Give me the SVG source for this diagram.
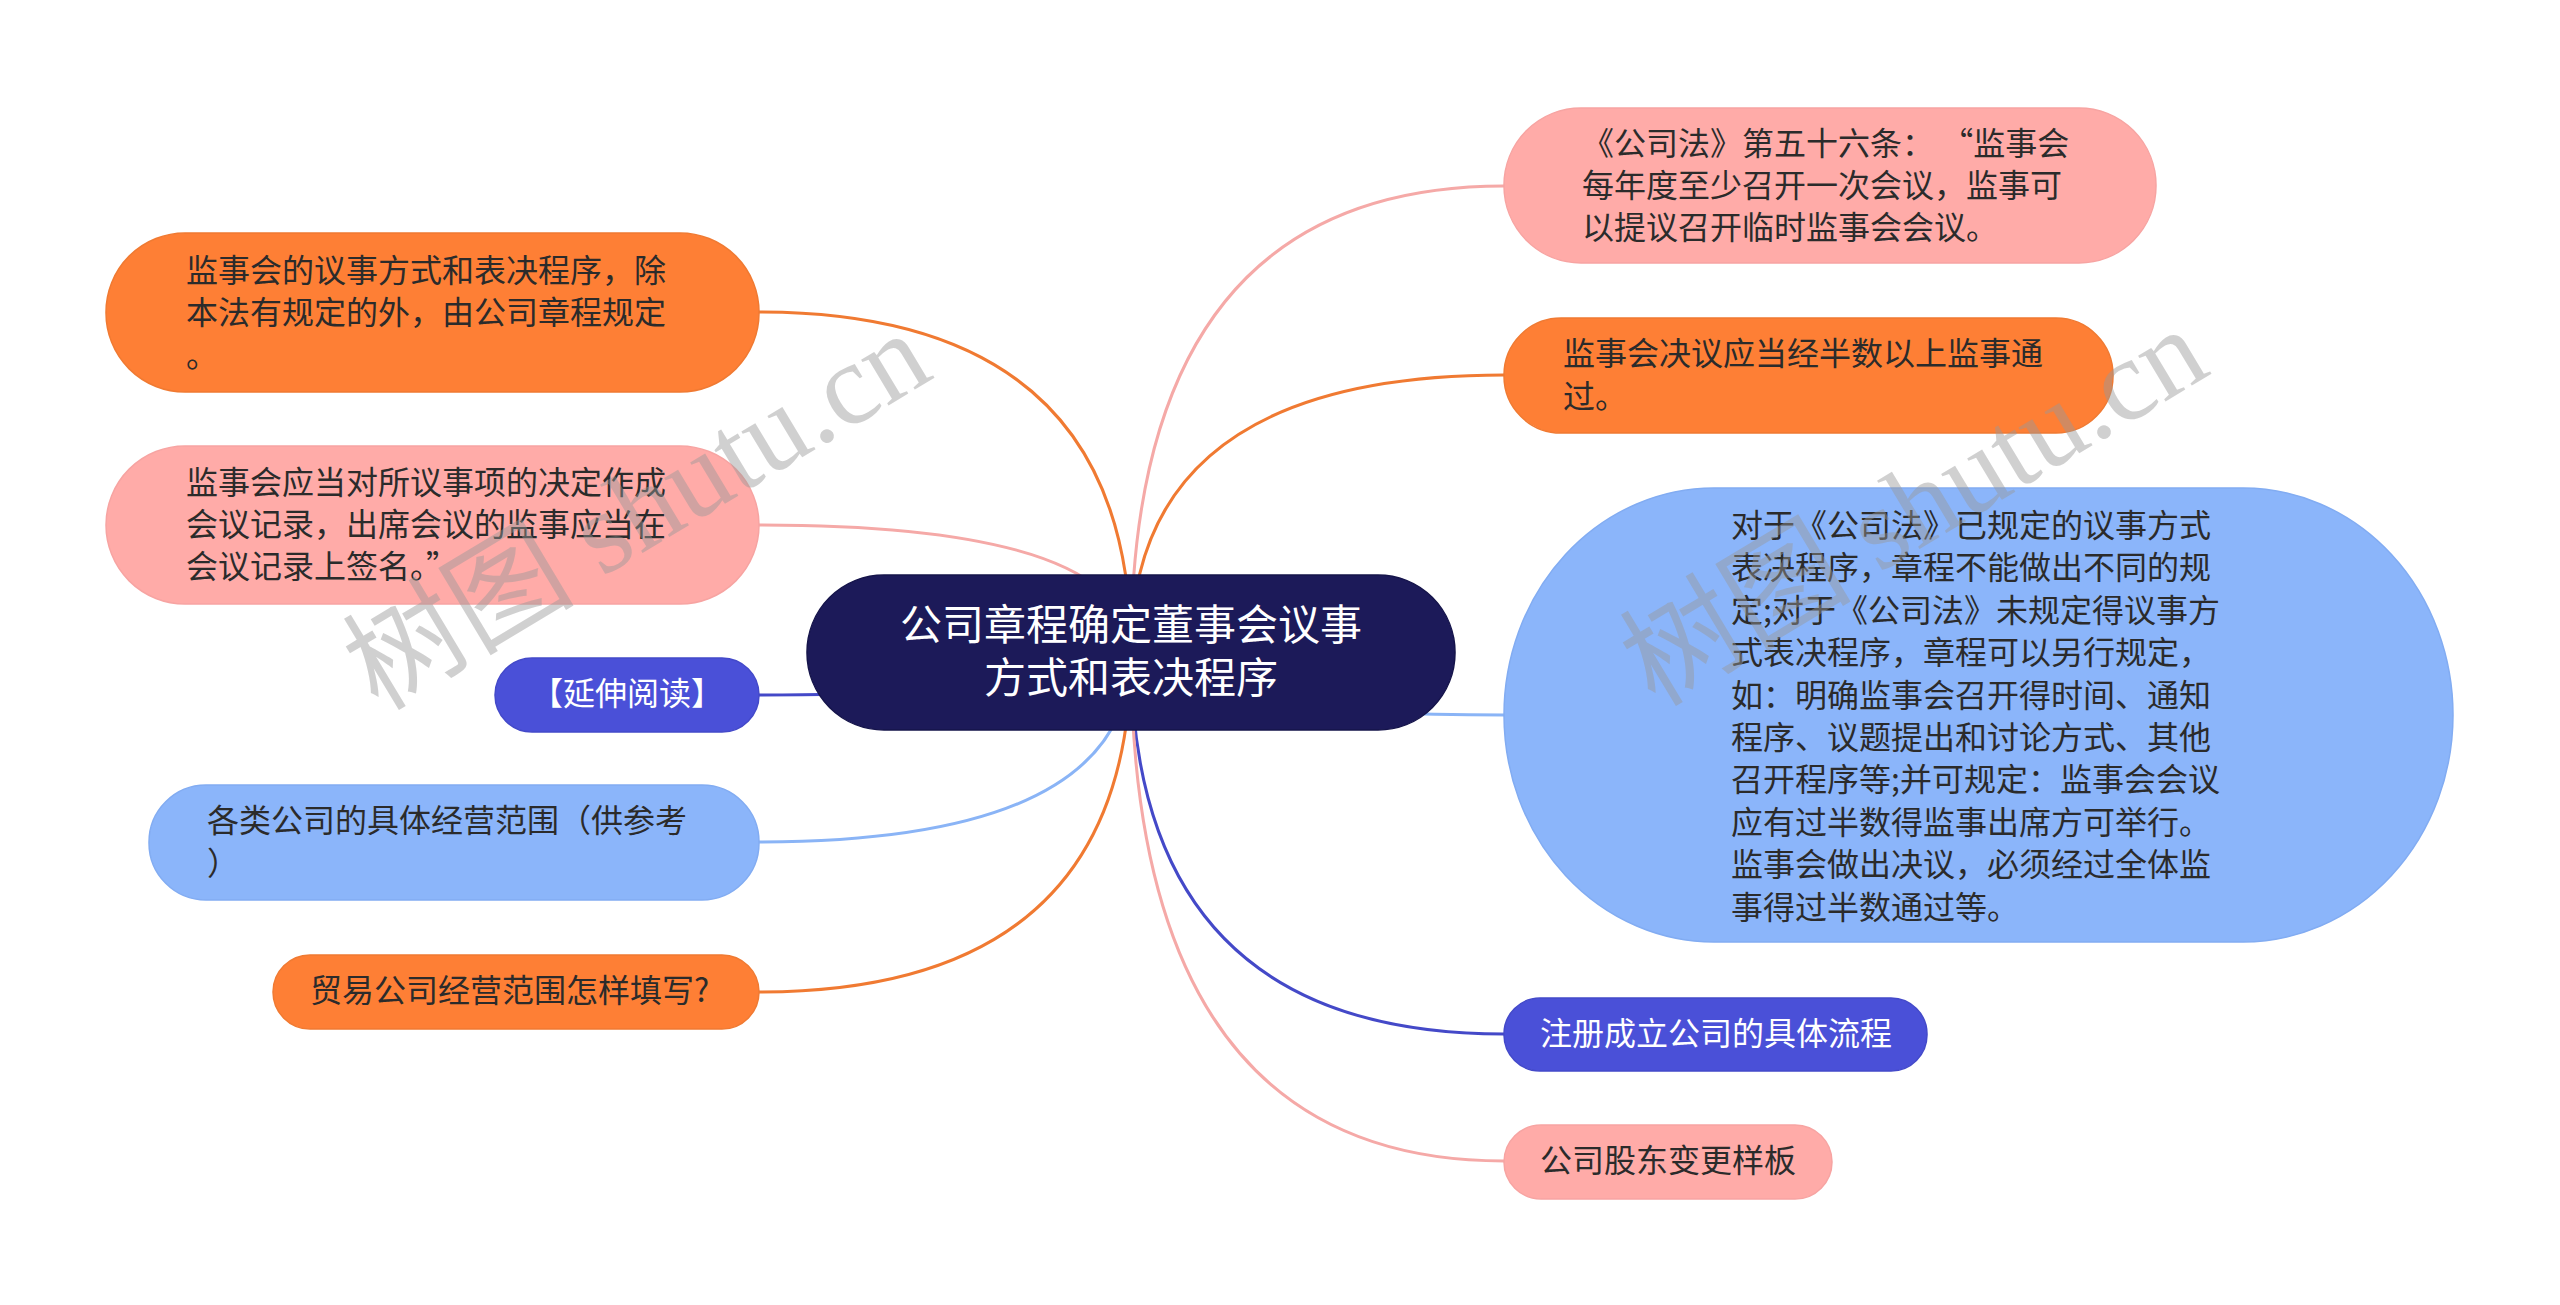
<svg xmlns="http://www.w3.org/2000/svg" width="2560" height="1305" viewBox="0 0 2560 1305">
<style>
.t{font-family:"Noto Sans CJK SC","Noto Sans",sans-serif;font-size:32px;fill:#2b2b2b}
.w{fill:#ffffff}
.c{font-size:42px;fill:#ffffff}
.orange{fill:#fe7f35;stroke:#f07a32;stroke-width:1.5}
.pink{fill:#ffaba8;stroke:#f7a4a2;stroke-width:1.5}
.lblue{fill:#8bb5fa;stroke:#82acf2;stroke-width:1.5}
.blue{fill:#4a50d8;stroke:#4349c9;stroke-width:1.5}
.line{fill:none;stroke-width:3}
.lo{stroke:#f07a32}
.lp{stroke:#f5a9a7}
.llb{stroke:#8ab4f6}
.lb{stroke:#4449c8}
.wm{font-family:"Liberation Serif","Noto Sans CJK SC",serif;font-size:116px;fill:#999999;opacity:0.45}
</style>
<rect width="2560" height="1305" fill="#ffffff"/>
<g id="connectors">
<path class="line lo" d="M1131 652 Q1131 312 759 312"/>
<path class="line lp" d="M1131 652 Q1131 525 759 525"/>
<path class="line lb" d="M1131 652 Q1131 695 759 695"/>
<path class="line llb" d="M1131 652 Q1131 842 759 842"/>
<path class="line lo" d="M1131 652 Q1131 992 759 992"/>
<path class="line lp" d="M1131 652 Q1131 186 1504 186"/>
<path class="line lo" d="M1131 652 Q1131 375 1504 375"/>
<path class="line llb" d="M1131 652 Q1131 715 1504 715"/>
<path class="line lb" d="M1131 652 Q1131 1034 1504 1034"/>
<path class="line lp" d="M1131 652 Q1131 1161 1504 1161"/>
</g>
<g id="center">
<rect x="807" y="575" width="648" height="155" rx="77" fill="#1c1a59" stroke="#15144a" stroke-width="1.5"/>
<text class="t c" x="1131" y="640" text-anchor="middle">公司章程确定董事会议事</text>
<text class="t c" x="1131" y="693" text-anchor="middle">方式和表决程序</text>
</g>
<g id="left1">
<rect class="orange" x="106" y="233" width="653" height="159" rx="79"/>
<text class="t" x="186" y="282">监事会的议事方式和表决程序，除</text>
<text class="t" x="186" y="324">本法有规定的外，由公司章程规定</text>
<text class="t" x="186" y="367">。</text>
</g>
<g id="left2">
<rect class="pink" x="106" y="446" width="653" height="158" rx="79"/>
<text class="t" x="186" y="494">监事会应当对所议事项的决定作成</text>
<text class="t" x="186" y="536">会议记录，出席会议的监事应当在</text>
<text class="t" x="186" y="578">会议记录上签名。”</text>
</g>
<g id="left3">
<rect class="blue" x="495" y="658" width="264" height="74" rx="37"/>
<text class="t w" x="627" y="705" text-anchor="middle">【延伸阅读】</text>
</g>
<g id="left4">
<rect class="lblue" x="149" y="785" width="610" height="115" rx="57"/>
<text class="t" x="207" y="832">各类公司的具体经营范围（供参考</text>
<text class="t" x="207" y="875">）</text>
</g>
<g id="left5">
<rect class="orange" x="273" y="955" width="486" height="74" rx="37"/>
<text class="t" x="310" y="1002">贸易公司经营范围怎样填写?</text>
</g>
<g id="right1">
<rect class="pink" x="1504" y="108" width="652" height="155" rx="77"/>
<text class="t" x="1582" y="155">《公司法》第五十六条： “监事会</text>
<text class="t" x="1582" y="197">每年度至少召开一次会议，监事可</text>
<text class="t" x="1582" y="239">以提议召开临时监事会会议。</text>
</g>
<g id="right2">
<rect class="orange" x="1504" y="318" width="609" height="115" rx="57"/>
<text class="t" x="1563" y="365">监事会决议应当经半数以上监事通</text>
<text class="t" x="1563" y="408">过。</text>
</g>
<g id="right3">
<rect class="lblue" x="1504" y="488" width="949" height="454" rx="210" ry="227"/>
<text class="t" x="1731" y="537">对于《公司法》已规定的议事方式</text>
<text class="t" x="1731" y="579">表决程序，章程不能做出不同的规</text>
<text class="t" x="1731" y="622">定;对于《公司法》未规定得议事方</text>
<text class="t" x="1731" y="664">式表决程序，章程可以另行规定，</text>
<text class="t" x="1731" y="707">如：明确监事会召开得时间、通知</text>
<text class="t" x="1731" y="749">程序、议题提出和讨论方式、其他</text>
<text class="t" x="1731" y="791">召开程序等;并可规定：监事会会议</text>
<text class="t" x="1731" y="834">应有过半数得监事出席方可举行。</text>
<text class="t" x="1731" y="876">监事会做出决议，必须经过全体监</text>
<text class="t" x="1731" y="919">事得过半数通过等。</text>
</g>
<g id="right4">
<rect class="blue" x="1504" y="998" width="423" height="73" rx="36"/>
<text class="t w" x="1540" y="1045">注册成立公司的具体流程</text>
</g>
<g id="right5">
<rect class="pink" x="1504" y="1125" width="328" height="74" rx="37"/>
<text class="t" x="1540" y="1172">公司股东变更样板</text>
</g>
<g id="watermarks">
<text class="wm" x="378" y="712" transform="rotate(-31 378 712)">树图 shutu.cn</text>
<text class="wm" x="1655" y="708" transform="rotate(-31 1655 708)">树图 shutu.cn</text>
</g>
</svg>
